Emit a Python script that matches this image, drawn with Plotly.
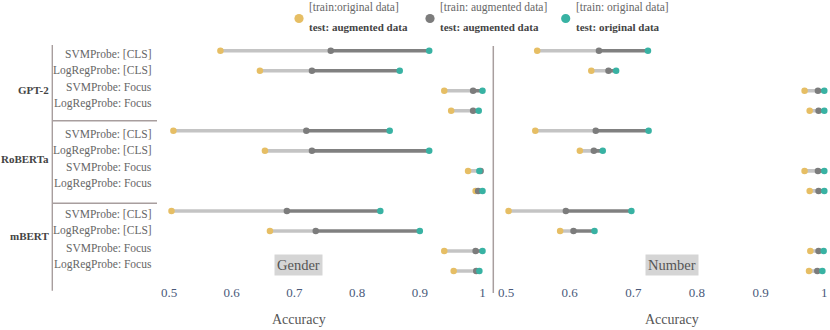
import plotly.graph_objects as go

# ---------------- data ----------------
models = ["GPT-2", "RoBERTa", "mBERT"]
probes = ["SVMProbe: [CLS]", "LogRegProbe: [CLS]", "SVMProbe: Focus", "LogRegProbe: Focus"]
tasks = ["Gender", "Number"]
tick_vals = [0.5, 0.6, 0.7, 0.8, 0.9, 1.0]
tick_text = ["0.5", "0.6", "0.7", "0.8", "0.9", "1"]
series_line1 = ["[train:original data]", "[train: augmented data]", "[train: original data]"]
series_line2 = ["test: augmented data", "test: augmented data", "test: original data"]

# rows: GPT-2 x4 probes, RoBERTa x4, mBERT x4
gender_orig_aug = [0.582, 0.645, 0.939, 0.950, 0.507, 0.653, 0.977, 0.989, 0.504, 0.661, 0.939, 0.954]
gender_aug_aug = [0.758, 0.728, 0.985, 0.985, 0.719, 0.728, 0.997, 0.993, 0.688, 0.734, 0.989, 0.990]
gender_orig_orig = [0.915, 0.868, 1.000, 0.994, 0.852, 0.915, 0.995, 1.000, 0.837, 0.900, 1.000, 0.995]

number_orig_aug = [0.549, 0.634, 0.969, 0.977, 0.546, 0.616, 0.969, 0.977, 0.504, 0.585, 0.978, 0.976]
number_aug_aug = [0.646, 0.661, 0.990, 0.991, 0.641, 0.638, 0.990, 0.991, 0.594, 0.606, 0.991, 0.989]
number_orig_orig = [0.723, 0.673, 1.000, 1.000, 0.724, 0.652, 1.000, 1.000, 0.697, 0.639, 0.999, 0.997]

# ---------------- style ----------------
C_YEL = "#E6BE64"
C_GRY = "#7C7C7C"
C_TEA = "#38B2A3"
C_LIGHT = "#C4C4C4"
C_DARK = "#808080"
C_AXLINE = "#A89E9E"
SERIF = "Liberation Serif"

W, H = 830, 330
ML, MR, MT, MB = 153, 0, 40, 47
PW, PH = W - ML - MR, H - MT - MB


def px(x):
    return (x - ML) / PW


def py(y):
    return (H - MB - y) / PH


split = 493.5
d1 = px(split)
s1 = 627.0  # px per unit, left panel (0.5 at 169)
s2 = 636.6  # px per unit, right panel (0.5 at 506)
range1 = [0.5 + (ML - 169) / s1, 0.5 + (split - 169) / s1]
range2 = [0.5 + (split - 506) / s2, 0.5 + (W - MR - 506) / s2]

row_px0, row_step = 50.7, 20.03
yrange = [(H - MB - row_px0) / row_step, -(row_px0 - MT) / row_step]

rows = list(range(len(models) * len(probes)))

fig = go.Figure()

panel_data = [
    (gender_orig_aug, gender_aug_aug, gender_orig_orig, "x", "y"),
    (number_orig_aug, number_aug_aug, number_orig_orig, "x2", "y2"),
]

colors = [C_YEL, C_GRY, C_TEA]
for a, b, c, xa, ya in panel_data:
    lx, ly, dx, dy = [], [], [], []
    for i, r in enumerate(rows):
        lx += [a[i], b[i], None]
        ly += [r, r, None]
        dx += [b[i], c[i], None]
        dy += [r, r, None]
    fig.add_trace(go.Scatter(x=lx, y=ly, mode="lines", line=dict(color=C_LIGHT, width=3.6),
                             xaxis=xa, yaxis=ya, showlegend=False, hoverinfo="skip"))
    fig.add_trace(go.Scatter(x=dx, y=dy, mode="lines", line=dict(color=C_DARK, width=3.6),
                             xaxis=xa, yaxis=ya, showlegend=False, hoverinfo="skip"))
    for vals, col, n1, n2 in zip([a, b, c], colors, series_line1, series_line2):
        fig.add_trace(go.Scatter(x=vals, y=rows, mode="markers",
                                 marker=dict(color=col, size=6.5, line=dict(width=0)),
                                 name=n1 + " " + n2, xaxis=xa, yaxis=ya,
                                 showlegend=False, cliponaxis=False))

axis_common = dict(showgrid=False, zeroline=False, showline=False, ticks="",
                   tickvals=tick_vals, ticktext=tick_text,
                   tickfont=dict(family=SERIF, size=13, color="#4A5A7A"))
fig.update_layout(
    width=W, height=H, margin=dict(l=ML, r=MR, t=MT, b=MB),
    paper_bgcolor="white", plot_bgcolor="white", showlegend=False,
    xaxis=dict(domain=[0, d1], range=range1, anchor="y", **axis_common),
    xaxis2=dict(domain=[d1, 1], range=range2, anchor="y2", **axis_common),
    yaxis=dict(domain=[0, 1], range=yrange, visible=False, anchor="x"),
    yaxis2=dict(domain=[0, 1], range=yrange, visible=False, anchor="x2"),
)

ann = []
shapes = []

# axis titles and panel tags
for xc, t in zip([298.7, 671.7], tasks):
    ann.append(dict(x=px(xc), y=py(319), xref="paper", yref="paper", text="Accuracy",
                    showarrow=False, xanchor="center", yanchor="middle",
                    font=dict(family=SERIF, size=14, color="#555555")))
    ann.append(dict(x=px(xc - 0.2), y=py(265), xref="paper", yref="paper", text=t,
                    showarrow=False, xanchor="center", yanchor="middle", bgcolor="#D5D5D5",
                    borderpad=2, font=dict(family=SERIF, size=14.5, color="#555555")))

# row labels
group_starts = [53.5, 134.0, 214.3]
offsets = [0, 16.6, 33.2, 49.7]
model_y = [90, 159, 236]
for g, m in enumerate(models):
    for k, p in enumerate(probes):
        ann.append(dict(x=px(153.5), y=py(group_starts[g] + offsets[k]), xref="paper", yref="paper",
                        text=p, showarrow=False, xanchor="right", yanchor="middle",
                        font=dict(family=SERIF, size=11.5, color="#666666")))
    ann.append(dict(x=px(51), y=py(model_y[g]), xref="paper", yref="paper",
                    text="<b>" + m + "</b>", showarrow=False, xanchor="right", yanchor="middle",
                    font=dict(family=SERIF, size=11, color="#444444")))

# label bracket lines
shapes.append(dict(type="line", xref="paper", yref="paper", x0=px(52.3), x1=px(52.3),
                   y0=py(45), y1=py(290.7), line=dict(color=C_AXLINE, width=1.4)))
for ys in [120.7, 203.3]:
    shapes.append(dict(type="line", xref="paper", yref="paper", x0=px(52), x1=px(157),
                       y0=py(ys), y1=py(ys), line=dict(color=C_AXLINE, width=1.4)))
# panel separator
shapes.append(dict(type="line", xref="paper", yref="paper", x0=px(493.3), x1=px(493.3),
                   y0=py(46), y1=py(293), line=dict(color=C_AXLINE, width=1.5)))

# legend (manual)
leg_marker_x = [299, 430, 565.7]
leg_text_x = [306.7, 438.3, 573.7]
for mx, tx, col, l1, l2 in zip(leg_marker_x, leg_text_x, colors, series_line1, series_line2):
    shapes.append(dict(type="circle", xref="paper", yref="paper", xsizemode="pixel",
                       ysizemode="pixel", xanchor=px(mx), yanchor=py(18.5),
                       x0=-4.6, x1=4.6, y0=-4.6, y1=4.6, fillcolor=col, line=dict(width=0)))
    ann.append(dict(x=px(tx), y=py(8), xref="paper", yref="paper", text=l1, showarrow=False,
                    xanchor="left", yanchor="middle",
                    font=dict(family=SERIF, size=11.5, color="#666666")))
    ann.append(dict(x=px(tx), y=py(26.7), xref="paper", yref="paper", text="<b>" + l2 + "</b>",
                    showarrow=False, xanchor="left", yanchor="middle",
                    font=dict(family=SERIF, size=11, color="#444444")))

fig.update_layout(annotations=ann, shapes=shapes)
fig.write_html("out.html", config={"displayModeBar": False},
               post_script="document.body.style.margin='0';document.body.style.overflow='hidden';")
